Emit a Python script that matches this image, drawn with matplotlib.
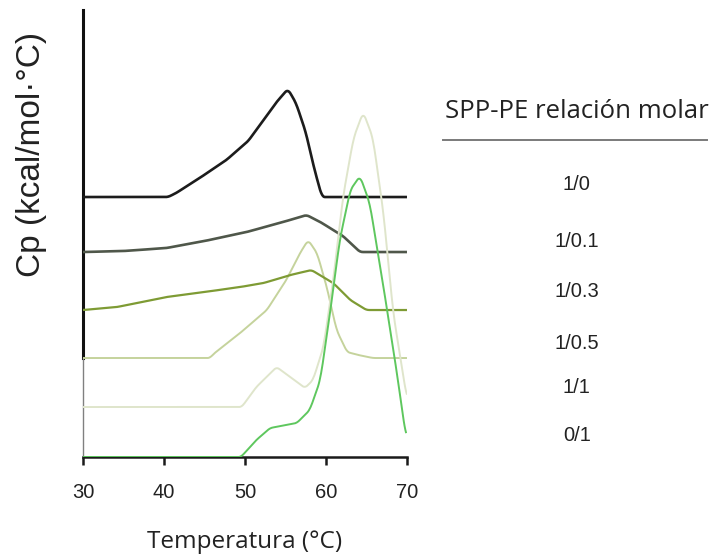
import matplotlib
matplotlib.use("Agg")
import matplotlib.pyplot as plt
import numpy as np

# Temperatures (°C) and heat capacity (arbitrary units above each trace's baseline)
labels = ["1/0", "1/0.1", "1/0.3", "1/0.5", "1/1", "0/1"]
colors = ["#1c1c1c", "#4f574a", "#7e9b34", "#c5d39c", "#dfe5cb", "#5ec75e"]
widths = [1.9, 1.9, 1.6, 1.4, 1.4, 1.4]
baselines = [26.0, 20.5, 14.7, 9.9, 5.0, 0.0]

t_10 = [30, 40.5, 41.5, 44.4, 47.7, 50.4, 52.2, 53.9, 55.3, 56.3, 57.5, 58.5, 59.5, 70]
cp_10 = [0, 0, 0.4, 1.9, 3.7, 5.6, 7.6, 9.5, 10.8, 9.4, 6.5, 3.0, 0, 0]

t_101 = [30, 35, 40.3, 45, 50.2, 54.7, 57.6, 59.3, 60.9, 62.1, 64.2, 70]
cp_101 = [0, 0.1, 0.4, 1.1, 2.0, 3.0, 3.7, 3.0, 2.2, 1.6, 0, 0]

t_103 = [30, 34.2, 40.3, 45, 49.4, 52.3, 55.6, 58.2, 60.9, 63.0, 65.0, 70]
cp_103 = [0, 0.3, 1.3, 1.8, 2.3, 2.7, 3.5, 4.0, 2.7, 1.0, 0, 0]

t_105 = [30, 45.7, 46.1, 49.4, 52.7, 55.1, 56.8, 57.8, 58.9, 60.1, 61.3, 62.6, 64.0, 65.8, 70]
cp_105 = [0, 0, 0.4, 2.5, 4.8, 7.8, 10.5, 11.8, 10.5, 7.1, 2.8, 0.6, 0.3, 0, 0]

t_11 = [30, 49.6, 51.4, 53.9, 55.6, 57.4, 58.4, 59.7, 60.9, 62.1, 63.4, 64.6, 65.8, 67.1, 68.3, 70]
cp_11 = [0, 0, 2.0, 4.0, 3.0, 1.9, 2.7, 6.0, 12.7, 21.0, 26.9, 29.5, 26.9, 19.4, 9.4, 0.8]

t_01 = [30, 49.5, 51.4, 53.1, 56.4, 58.0, 59.3, 60.5, 61.7, 63.0, 64.2, 65.4, 67.1, 68.7, 69.9]
cp_01 = [0, 0, 1.7, 2.9, 3.4, 4.7, 7.7, 14.4, 21.7, 26.7, 28.1, 25.4, 17.0, 8.7, 1.9]

temps = [t_10, t_101, t_103, t_105, t_11, t_01]
cps = [cp_10, cp_101, cp_103, cp_105, cp_11, cp_01]

# Vertical positions (figure fraction) of the ratio labels on the right
label_y = [0.668, 0.566, 0.476, 0.384, 0.305, 0.219]

fig = plt.figure(figsize=(7.14, 5.57), dpi=100)
ax = fig.add_axes([0.1162, 0.1795, 0.4538, 0.8025])

draw_order = [3, 2, 1, 0, 4, 5]
for i in draw_order:
    t = np.array(temps[i], dtype=float)
    c = np.array(cps[i], dtype=float)
    ts = np.linspace(t[0], t[-1], 400)
    cs = np.interp(ts, t, c)
    # light smoothing of the piecewise trace
    k = np.ones(7) / 7
    pad = np.pad(cs, 3, mode="edge")
    cs = np.convolve(pad, k, mode="valid")
    ax.plot(ts, baselines[i] + cs, color=colors[i], lw=widths[i],
            solid_capstyle="butt", zorder=3 + (i >= 4))

ax.set_xlim(30, 70)
ax.set_ylim(0, 44.7)
ax.set_xticks([30, 40, 50, 60, 70])
ax.set_yticks([])
for s in ["top", "right", "left"]:
    ax.spines[s].set_visible(False)
ax.spines["bottom"].set_linewidth(1.8)
ax.spines["bottom"].set_color("#1a1a1a")
ax.spines["bottom"].set_zorder(2)
ax.tick_params(axis="x", length=6, width=1.8, color="#1a1a1a", pad=13,
               labelsize=14.5)
for lab in ax.get_xticklabels():
    lab.set_fontfamily("Liberation Sans")
    lab.set_color("#222222")

# Left axis: heavy above the 1/0.5 baseline, lighter below
split = baselines[3] / 44.7
ax.axvline(30, ymin=split, ymax=1, color="#111111", lw=2.2, clip_on=False, zorder=2)
ax.axvline(30, ymin=0, ymax=split, color="#808080", lw=1.0, clip_on=False, zorder=2)

ax.set_xlabel("Temperatura (°C)", fontfamily="Open Sans", fontsize=17.5,
              color="#222222", labelpad=20)
fig.text(0.044, 0.722, "Cp (kcal/mol·°C)", rotation=90, ha="center", va="center",
         fontfamily="Liberation Sans", fontsize=24, color="#222222")

# Ratio legend on the right
fig.text(0.808, 0.800, "SPP-PE relación molar", ha="center", va="center",
         fontfamily="Open Sans", fontsize=18.5, color="#222222")
fig.add_artist(plt.Line2D([0.620, 0.990], [0.749, 0.749], color="#7a7a7a", lw=1.4))
for lab, yy in zip(labels, label_y):
    fig.text(0.808, yy, lab, ha="center", va="center",
             fontfamily="Liberation Sans", fontsize=14.5, color="#222222")

fig.savefig("out.png", dpi=100, facecolor="white")
